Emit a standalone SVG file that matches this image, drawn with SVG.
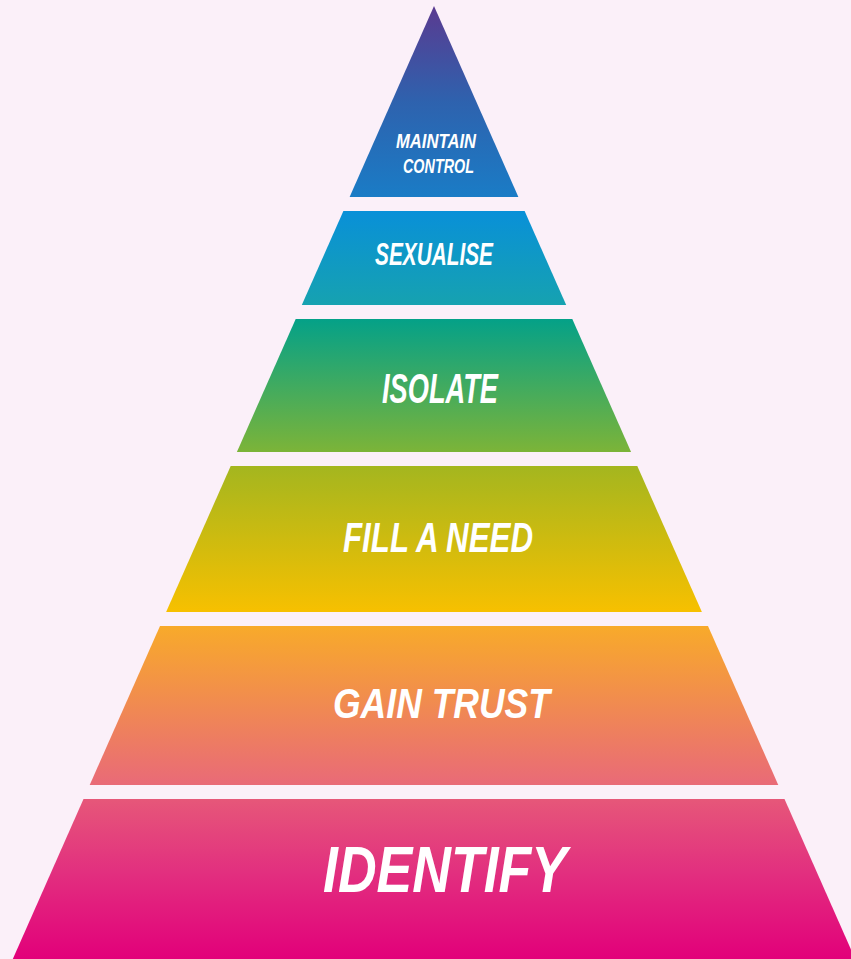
<svg xmlns="http://www.w3.org/2000/svg" width="851" height="959" viewBox="0 0 851 959">
  <defs>
    <linearGradient id="g1" x1="0" y1="0" x2="0" y2="1">
      <stop offset="0" stop-color="#5a3a90"/>
      <stop offset="0.5" stop-color="#2e62ae"/>
      <stop offset="1" stop-color="#1a7cc6"/>
    </linearGradient>
    <linearGradient id="g2" x1="0" y1="0" x2="0" y2="1">
      <stop offset="0" stop-color="#0990d8"/>
      <stop offset="1" stop-color="#16a2b0"/>
    </linearGradient>
    <linearGradient id="g3" x1="0" y1="0" x2="0" y2="1">
      <stop offset="0" stop-color="#04a188"/>
      <stop offset="1" stop-color="#7cb438"/>
    </linearGradient>
    <linearGradient id="g4" x1="0" y1="0" x2="0" y2="1">
      <stop offset="0" stop-color="#a4b61f"/>
      <stop offset="1" stop-color="#f7c000"/>
    </linearGradient>
    <linearGradient id="g5" x1="0" y1="0" x2="0" y2="1">
      <stop offset="0" stop-color="#f8aa2a"/>
      <stop offset="1" stop-color="#e96a78"/>
    </linearGradient>
    <linearGradient id="g6" x1="0" y1="0" x2="0" y2="1">
      <stop offset="0" stop-color="#e65779"/>
      <stop offset="0.45" stop-color="#e2307f"/>
      <stop offset="1" stop-color="#e2007a"/>
    </linearGradient>
  </defs>
  <style>
    .lbl { font-family: "Liberation Sans Narrow", "Liberation Sans", "DejaVu Sans Condensed", sans-serif; font-weight: bold; font-style: italic; fill: #ffffff; }
  </style>
  <rect x="0" y="0" width="851" height="959" fill="#fbf0f9"/>

  <g id="maintain-control">
    <polygon points="434,6 518.4,197 349.6,197" fill="url(#g1)"/>
    <text class="lbl" x="396" y="148" font-size="21" textLength="80" lengthAdjust="spacingAndGlyphs">MAINTAIN</text>
    <text class="lbl" x="403" y="173" font-size="21" textLength="71" lengthAdjust="spacingAndGlyphs">CONTROL</text>
  </g>

  <g id="sexualise">
    <polygon points="343.4,211 524.6,211 566.2,305 301.8,305" fill="url(#g2)"/>
    <text class="lbl" x="375" y="265" font-size="31" textLength="118" lengthAdjust="spacingAndGlyphs">SEXUALISE</text>
  </g>

  <g id="isolate">
    <polygon points="295.7,319 572.3,319 631.1,452 236.9,452" fill="url(#g3)"/>
    <text class="lbl" x="382" y="403" font-size="42" textLength="116" lengthAdjust="spacingAndGlyphs">ISOLATE</text>
  </g>

  <g id="fill-a-need">
    <polygon points="230.7,466 637.3,466 701.9,612 166.1,612" fill="url(#g4)"/>
    <text class="lbl" x="343" y="552" font-size="42" textLength="190" lengthAdjust="spacingAndGlyphs">FILL A NEED</text>
  </g>

  <g id="gain-trust">
    <polygon points="160,626 708,626 778.3,785 89.7,785" fill="url(#g5)"/>
    <text class="lbl" x="333" y="718" font-size="43" textLength="217" lengthAdjust="spacingAndGlyphs">GAIN TRUST</text>
  </g>

  <g id="identify">
    <polygon points="83.5,799 784.5,799 855.2,959 12.8,959" fill="url(#g6)"/>
    <text class="lbl" x="323" y="892" font-size="65" textLength="244" lengthAdjust="spacingAndGlyphs">IDENTIFY</text>
  </g>

  <g id="connectors"></g>
</svg>
